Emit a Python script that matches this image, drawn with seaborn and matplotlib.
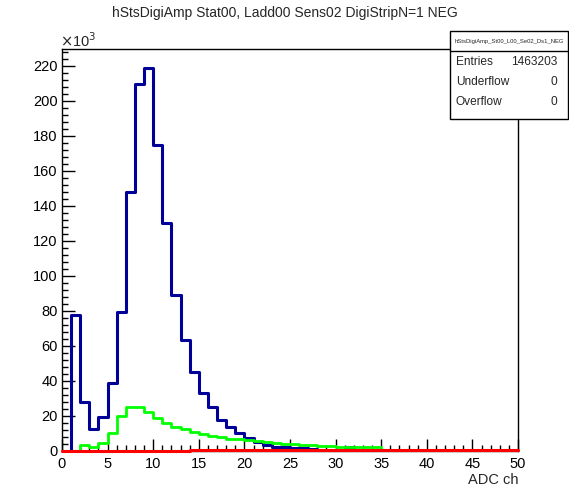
import numpy as np
import pandas as pd
import matplotlib
matplotlib.use("Agg")
import matplotlib.pyplot as plt
from matplotlib.patches import Rectangle
from matplotlib.lines import Line2D
from matplotlib.ticker import MultipleLocator, FuncFormatter
import seaborn as sns

# ADC bins: 50 channels of width 1
bin_edges = list(range(0, 51))

# counts per ADC channel
counts_blue = [
    0, 77500, 28000, 12500, 19400, 39000, 79500, 148000, 209500, 218500,
    174500, 130000, 89000, 63500, 45000, 33000, 25300, 17800, 13800, 10000,
    7200, 5300, 3400, 2500, 2200, 1800, 1500, 1000, 700, 500,
    400, 2500, 300, 200, 0, 0, 0, 0, 0, 0,
    0, 0, 0, 0, 0, 0, 0, 0, 0, 0,
]
counts_green = [
    0, 0, 3600, 2500, 4700, 10000, 20000, 24900, 25300, 22400,
    19000, 15800, 13800, 12300, 11000, 9700, 8500, 7800, 7000, 6600,
    6300, 5500, 4900, 4400, 4200, 3800, 3600, 3200, 3000, 2600,
    2500, 2400, 2200, 2100, 2000, 0, 0, 0, 0, 0,
    0, 800, 0, 0, 0, 0, 0, 0, 0, 0,
]
counts_red = [0] * 14 + [500] * 36

title = "hStsDigiAmp Stat00, Ladd00 Sens02 DigiStripN=1 NEG"
x_label = "ADC ch"
stats_name = "hStsDigiAmp_St00_L00_Se02_Ds1_NEG"
stats_rows = [("Entries", "1463203"), ("Underflow", "0"), ("Overflow", "0")]

sns.set_theme(style="white")
plt.rcParams["font.family"] = ["Liberation Sans", "DejaVu Sans"]

W, H = 569, 487
fig = plt.figure(figsize=(W / 100, H / 100), dpi=100)
fig.patch.set_facecolor("white")
ax = fig.add_axes([62 / W, 1 - 451 / H, (518 - 62) / W, (451 - 49) / H])

centers = [(a + b) / 2 for a, b in zip(bin_edges[:-1], bin_edges[1:])]
df = pd.DataFrame({
    "adc": centers * 3,
    "counts": counts_blue + counts_green + counts_red,
    "series": ["blue"] * 50 + ["green"] * 50 + ["red"] * 50,
})

styles = {"blue": ("#000099", 2.2), "green": ("#00ff00", 2.0), "red": ("#ff0000", 2.2)}
for name in ["blue", "green", "red"]:
    color, lw = styles[name]
    sns.histplot(
        data=df[df["series"] == name], x="adc", weights="counts",
        bins=bin_edges, element="step", fill=False, color=color,
        linewidth=lw, ax=ax, zorder=3,
    )
# the baseline histogram sits on the frame, keep it fully visible
ax.lines[-1].set_clip_on(False)

ax.set_xlim(0, 50)
ax.set_ylim(0, 229500)
ax.set_xlabel("")
ax.set_ylabel("")

ax.xaxis.set_major_locator(MultipleLocator(5))
ax.xaxis.set_minor_locator(MultipleLocator(1))
ax.yaxis.set_major_locator(MultipleLocator(20000))
ax.yaxis.set_minor_locator(MultipleLocator(4000))
ax.yaxis.set_major_formatter(FuncFormatter(lambda v, p: f"{v / 1000:.0f}"))

ax.tick_params(axis="both", which="both", direction="in", colors="black",
               labelsize=10.5, width=1.0, top=False, right=False,
               bottom=True, left=True)
ax.tick_params(axis="both", which="major", length=9)
ax.tick_params(axis="both", which="minor", length=4.5)
ax.tick_params(axis="x", which="major", pad=4)
ax.tick_params(axis="y", which="major", pad=3)
for s in ax.spines.values():
    s.set_color("black")
    s.set_linewidth(1.0)

fig.text(0.5, 1 - 13 / H, title, ha="center", va="center", fontsize=10)
fig.text(518 / W, 1 - 480 / H, x_label, ha="right", va="center", fontsize=10.5)
fig.text(60 / W, 1 - 41 / H, r"$\times$10$^{3}$", ha="left", va="center",
         fontsize=10.5)

# statistics box
bx0, bx1, by0, by1 = 450, 568, 31, 119
fig.patches.append(Rectangle((bx0 / W, 1 - by1 / H), (bx1 - bx0) / W,
                             (by1 - by0) / H, transform=fig.transFigure,
                             facecolor="white", edgecolor="black",
                             linewidth=1.0, zorder=5))
fig.lines.append(Line2D([bx0 / W, bx1 / W], [1 - 50.5 / H, 1 - 50.5 / H],
                        transform=fig.transFigure, color="black",
                        linewidth=1.0, zorder=6))
fig.text((bx0 + bx1) / 2 / W, 1 - 41 / H, stats_name, ha="center",
         va="center", fontsize=4.2, zorder=7)
for i, (lab, val) in enumerate(stats_rows):
    yy = 1 - (62 + 20 * i) / H
    fig.text(456 / W, yy, lab, ha="left", va="center", fontsize=8.6, zorder=7)
    fig.text(557 / W, yy, val, ha="right", va="center", fontsize=8.6, zorder=7)

fig.savefig("out.png", dpi=100, facecolor="white")
